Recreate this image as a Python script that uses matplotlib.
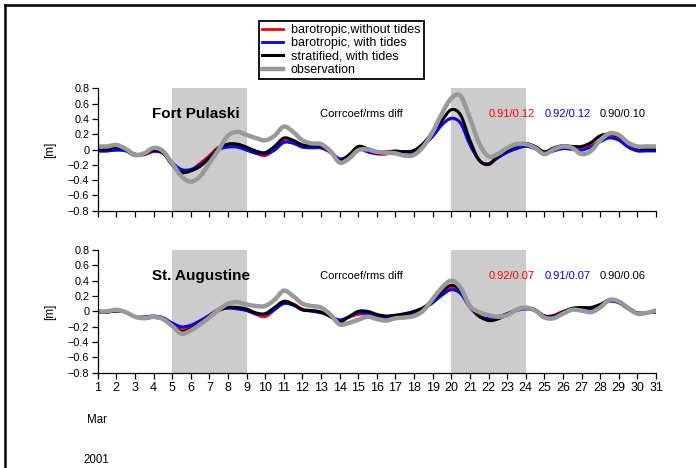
import numpy as np
import matplotlib
matplotlib.use("Agg")
import matplotlib.pyplot as plt
from matplotlib.lines import Line2D
from matplotlib.path import Path
from matplotlib.patches import PathPatch

plt.rcParams["font.family"] = ["Liberation Sans", "DejaVu Sans"]

# half-day samples, 1 Mar .. 31 Mar 2001
days = np.arange(1, 31.01, 0.5)

series_labels = ["barotropic,without tides", "barotropic, with tides",
                 "stratified, with tides", "observation"]

# Fort Pulaski
fp_baro_notide = [-0.02, -0.02, 0.00, -0.01, -0.07, -0.07, -0.03, -0.05, -0.18, -0.28,
                  -0.27, -0.18, -0.08, 0.03, 0.05, 0.05, 0.00, -0.05, -0.08, 0.00,
                  0.11, 0.09, 0.03, 0.03, 0.02, -0.04, -0.13, -0.09, 0.01, -0.03,
                  -0.06, -0.06, -0.03, -0.03, -0.04, 0.05, 0.18, 0.33, 0.40, 0.35,
                  0.08, -0.14, -0.20, -0.10, -0.03, 0.02, 0.05, 0.02, -0.04, -0.01,
                  0.02, 0.02, 0.02, 0.05, 0.12, 0.17, 0.14, 0.05, 0.00, -0.01, -0.01]
fp_baro_tide = [-0.02, -0.02, -0.01, -0.02, -0.08, -0.06, -0.02, -0.05, -0.17, -0.26,
                -0.26, -0.20, -0.10, 0.00, 0.03, 0.03, -0.01, -0.05, -0.06, -0.01,
                0.09, 0.08, 0.03, 0.02, 0.02, -0.03, -0.12, -0.08, 0.01, -0.03,
                -0.05, -0.04, -0.03, -0.03, -0.03, 0.05, 0.17, 0.32, 0.41, 0.34,
                0.06, -0.14, -0.19, -0.11, -0.04, 0.01, 0.04, 0.01, -0.05, -0.02,
                0.01, 0.00, -0.01, 0.03, 0.10, 0.15, 0.12, 0.03, -0.02, -0.02, -0.02]
fp_strat = [0.00, 0.00, 0.03, 0.00, -0.06, -0.06, -0.01, -0.04, -0.20, -0.30,
            -0.28, -0.22, -0.11, 0.02, 0.07, 0.07, 0.03, -0.02, -0.04, 0.04,
            0.15, 0.12, 0.06, 0.05, 0.04, -0.02, -0.14, -0.07, 0.04, 0.01,
            -0.03, -0.03, -0.02, -0.03, -0.01, 0.08, 0.23, 0.38, 0.52, 0.45,
            0.12, -0.14, -0.19, -0.09, -0.01, 0.05, 0.08, 0.04, -0.03, 0.02,
            0.05, 0.04, 0.04, 0.09, 0.18, 0.20, 0.17, 0.08, 0.02, 0.01, 0.01]
fp_obs = [0.04, 0.04, 0.06, 0.01, -0.07, -0.05, 0.02, -0.02, -0.18, -0.35,
          -0.42, -0.35, -0.18, 0.00, 0.18, 0.23, 0.19, 0.15, 0.12, 0.18,
          0.30, 0.23, 0.12, 0.08, 0.07, -0.02, -0.17, -0.12, -0.01, 0.00,
          -0.03, -0.04, -0.05, -0.08, -0.07, 0.04, 0.23, 0.47, 0.67, 0.70,
          0.41, 0.08, -0.09, -0.06, 0.02, 0.07, 0.07, 0.02, -0.06, 0.00,
          0.04, 0.02, -0.06, -0.02, 0.12, 0.21, 0.19, 0.09, 0.04, 0.04, 0.04]
fp_stats = ["0.91/0.12", "0.92/0.12", "0.90/0.10"]

# St. Augustine
sa_baro_notide = [-0.01, -0.01, 0.01, -0.01, -0.07, -0.08, -0.07, -0.09, -0.17, -0.22,
                  -0.20, -0.13, -0.05, 0.03, 0.05, 0.04, 0.01, -0.04, -0.07, 0.02,
                  0.13, 0.10, 0.03, 0.01, -0.01, -0.06, -0.12, -0.08, -0.04, -0.04,
                  -0.09, -0.09, -0.06, -0.04, -0.02, 0.03, 0.12, 0.23, 0.30, 0.24,
                  0.06, -0.07, -0.10, -0.08, -0.03, 0.02, 0.04, 0.01, -0.06, -0.05,
                  0.00, 0.03, 0.04, 0.04, 0.08, 0.14, 0.12, 0.04, -0.02, -0.02, -0.01]
sa_baro_tide = [-0.01, -0.01, 0.00, -0.01, -0.07, -0.07, -0.06, -0.08, -0.15, -0.20,
                -0.18, -0.12, -0.05, 0.02, 0.04, 0.03, 0.01, -0.03, -0.04, 0.02,
                0.10, 0.08, 0.02, 0.00, -0.02, -0.06, -0.11, -0.07, -0.02, -0.03,
                -0.07, -0.07, -0.06, -0.04, -0.02, 0.03, 0.11, 0.21, 0.28, 0.23,
                0.05, -0.06, -0.09, -0.07, -0.03, 0.01, 0.03, 0.01, -0.06, -0.06,
                -0.01, 0.02, 0.03, 0.03, 0.07, 0.13, 0.11, 0.03, -0.02, -0.02, -0.01]
sa_strat = [-0.01, -0.01, 0.01, -0.01, -0.07, -0.09, -0.08, -0.10, -0.19, -0.26,
            -0.23, -0.15, -0.07, 0.01, 0.05, 0.05, 0.03, -0.02, -0.03, 0.05,
            0.13, 0.09, 0.02, 0.01, -0.01, -0.07, -0.14, -0.07, 0.00, 0.00,
            -0.04, -0.06, -0.05, -0.03, 0.00, 0.05, 0.14, 0.26, 0.34, 0.27,
            0.07, -0.06, -0.12, -0.10, -0.04, 0.02, 0.05, 0.02, -0.06, -0.07,
            -0.01, 0.04, 0.05, 0.05, 0.09, 0.15, 0.13, 0.05, -0.02, -0.02, 0.00]
sa_obs = [0.00, 0.00, 0.02, -0.01, -0.07, -0.09, -0.07, -0.10, -0.19, -0.29,
          -0.25, -0.17, -0.08, 0.02, 0.10, 0.12, 0.09, 0.07, 0.07, 0.15,
          0.27, 0.20, 0.10, 0.07, 0.05, -0.04, -0.17, -0.15, -0.11, -0.07,
          -0.10, -0.12, -0.09, -0.08, -0.06, 0.01, 0.16, 0.31, 0.40, 0.31,
          0.07, -0.01, -0.05, -0.07, -0.05, 0.02, 0.05, 0.01, -0.08, -0.09,
          -0.03, 0.02, 0.01, -0.01, 0.05, 0.15, 0.13, 0.04, -0.03, -0.02, 0.01]
sa_stats = ["0.92/0.07", "0.91/0.07", "0.90/0.06"]

shade_spans = [(5, 9), (20, 24)]
yticks = [-0.8, -0.6, -0.4, -0.2, 0, 0.2, 0.4, 0.6, 0.8]
ytick_labels = ["\u22120.8", "\u22120.6", "\u22120.4", "\u22120.2", "0",
                "0.2", "0.4", "0.6", "0.8"]
xticks = list(range(1, 32))

colors = ["#ff0000", "#0000ff", "#000000", "#999999"]
widths = [2.0, 2.0, 2.2, 3.2]


def smooth_path(x, y):
    # Catmull-Rom curve through the samples, as cubic Bezier segments
    p = np.column_stack([x, y]).astype(float)
    ext = np.vstack([p[0], p, p[-1]])
    verts = [p[0]]
    codes = [Path.MOVETO]
    for i in range(len(p) - 1):
        p0, p1, p2, p3 = ext[i], ext[i + 1], ext[i + 2], ext[i + 3]
        verts += [p1 + (p2 - p0) / 6, p2 - (p3 - p1) / 6, p2]
        codes += [Path.CURVE4] * 3
    return Path(verts, codes)


W, H = 696, 468
fig = plt.figure(figsize=(W / 100, H / 100), dpi=100)

# outer frame (only top/left visible in the original)
fig.add_artist(Line2D([5 / W, 1.0], [1 - 5 / H, 1 - 5 / H], transform=fig.transFigure,
                      color="black", lw=1.8))
fig.add_artist(Line2D([5 / W, 5 / W], [1 - 5 / H, 0.0], transform=fig.transFigure,
                      color="black", lw=1.8))

left, width = 97.7 / W, (656 - 97.7) / W
ax1 = fig.add_axes([left, 1 - 210.7 / H, width, (210.7 - 88.3) / H])
ax2 = fig.add_axes([left, 1 - 372.7 / H, width, (372.7 - 250) / H])

panels = [
    (ax1, "Fort Pulaski", [fp_baro_notide, fp_baro_tide, fp_strat, fp_obs], fp_stats, 6.3),
    (ax2, "St. Augustine", [sa_baro_notide, sa_baro_tide, sa_strat, sa_obs], sa_stats, 6.55),
]

handles = [Line2D([], [], color=c, lw=lw, label=lab)
           for c, lw, lab in zip(colors, widths, series_labels)]

for ax, name, data, stats, name_x in panels:
    for a, b in shade_spans:
        ax.axvspan(a, b, color="#cccccc", lw=0, zorder=0)
    for vals, c, lw in zip(data, colors, widths):
        ax.add_patch(PathPatch(smooth_path(days, vals), fill=False, edgecolor=c,
                               lw=lw, joinstyle="round", capstyle="round", zorder=2))
    ax.set_xlim(1, 31)
    ax.set_ylim(-0.8, 0.8)
    ax.set_yticks(yticks)
    ax.set_yticklabels(ytick_labels)
    ax.set_xticks(xticks)
    for s in ("top", "right"):
        ax.spines[s].set_visible(False)
    for s in ("left", "bottom"):
        ax.spines[s].set_linewidth(0.9)
    ax.tick_params(direction="out", length=4, width=0.9, pad=2)
    ax.tick_params(axis="y", labelsize=7.8)
    ax.tick_params(axis="x", labelsize=9)
    ax.set_ylabel("[m]", fontsize=8.5)
    ax.yaxis.set_label_coords(-0.075, 0.5)
    ax.patch.set_visible(False)

    ax.text(name_x, 0.46, name, fontsize=11, fontweight="bold",
            ha="center", va="center")
    ax.text(12.97, 0.46, "Corrcoef/rms diff", fontsize=8.1, ha="left", va="center")
    for sx, st, c in zip([22.03, 25.0, 27.99], stats, colors[:3]):
        ax.text(sx, 0.46, st, fontsize=8, color=c, ha="left", va="center")

ax1.tick_params(axis="x", labelbottom=False)
ax2.tick_params(axis="x", pad=3)

fig.text(87 / W, 1 - 420 / H, "Mar", fontsize=8.3, ha="left", va="center")
fig.text(83 / W, 1 - 460 / H, "2001", fontsize=8.3, ha="left", va="center")

leg = fig.legend(handles=handles, loc="upper left",
                 bbox_to_anchor=(259 / W, 1 - 21 / H), fontsize=9,
                 handlelength=1.7, handletextpad=0.6, labelspacing=0.1,
                 borderpad=0.25, borderaxespad=0, fancybox=False, framealpha=1)
leg.get_frame().set_edgecolor("black")
leg.get_frame().set_linewidth(1.3)

fig.savefig("out.png", dpi=100)
